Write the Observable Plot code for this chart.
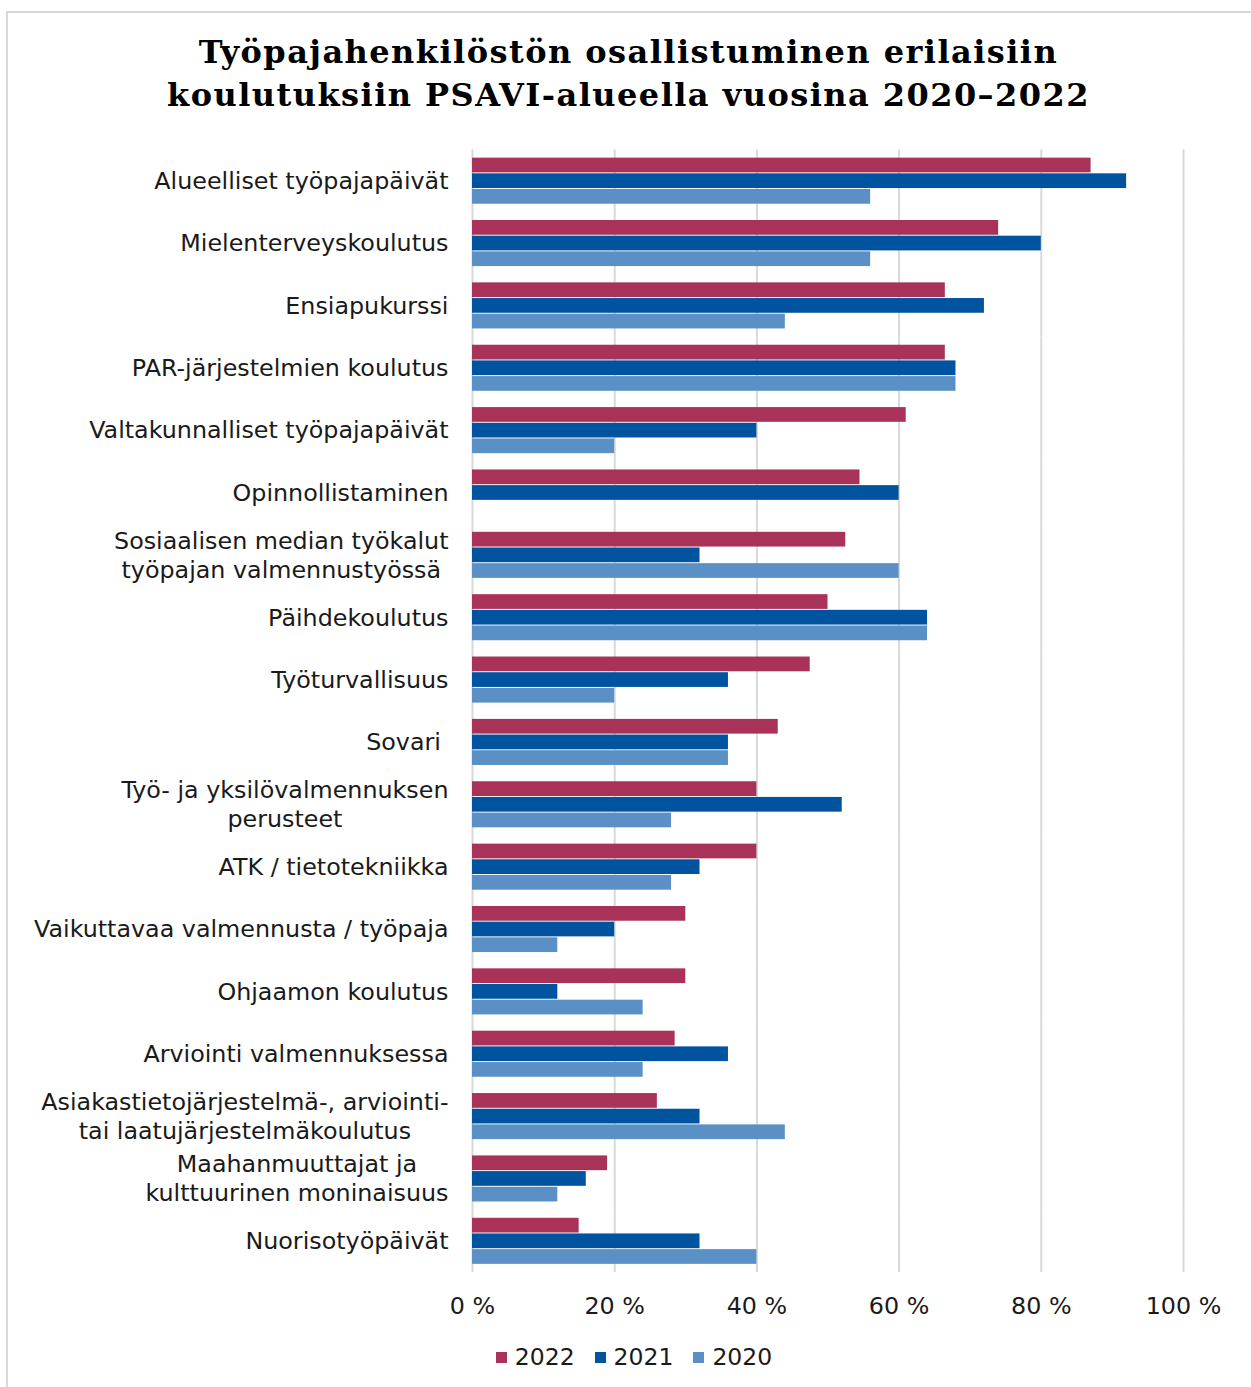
<!DOCTYPE html>
<html>
<head>
<meta charset="utf-8">
<script src="https://cdn.jsdelivr.net/npm/d3@7"></script>
<script src="https://cdn.jsdelivr.net/npm/@observablehq/plot@0.6"></script>
<style>
  html, body { margin: 0; padding: 0; background: #fff; }
  #wrap { position: relative; width: 1251px; height: 1387px; overflow: hidden; background: #fff; }
  #frame { position: absolute; left: 6px; top: 11px; width: 1260px; height: 1400px; border: 2px solid #d9d9d9; box-sizing: border-box; }
  #title { position: absolute; left: 6px; width: 1245px; top: 31px; text-align: center;
           font-family: "DejaVu Serif", serif; font-weight: bold; font-size: 32px; letter-spacing: 1.45px; line-height: 43px; color: #000; }
  #chart { position: absolute; left: 0; top: 130px; }
  #legend { position: absolute; left: 0; width: 1268px; top: 1343px; display: flex; justify-content: center;
            font-family: "DejaVu Sans", sans-serif; font-size: 23.5px; color: #1a1a1a; }
  .item { display: flex; align-items: center; margin: 0 10px; }
  .sw { width: 11px; height: 11px; margin-right: 8px; }
</style>
</head>
<body>
<div id="wrap">
  <div id="frame"></div>
  <div id="title">Työpajahenkilöstön osallistuminen erilaisiin<br>koulutuksiin PSAVI-alueella vuosina 2020–2022</div>
  <div id="chart"></div>
  <div id="legend"></div>
</div>
<script>
const categories = [
  "Alueelliset työpajapäivät",
  "Mielenterveyskoulutus",
  "Ensiapukurssi",
  "PAR-järjestelmien koulutus",
  "Valtakunnalliset työpajapäivät",
  "Opinnollistaminen",
  "Sosiaalisen median työkalut\ntyöpajan valmennustyössä",
  "Päihdekoulutus",
  "Työturvallisuus",
  "Sovari ",
  "Työ- ja yksilövalmennuksen\nperusteet",
  "ATK / tietotekniikka",
  "Vaikuttavaa valmennusta / työpaja",
  "Ohjaamon koulutus",
  "Arviointi valmennuksessa",
  "Asiakastietojärjestelmä-, arviointi-\ntai laatujärjestelmäkoulutus",
  "Maahanmuuttajat ja\nkulttuurinen moninaisuus",
  "Nuorisotyöpäivät"
];
const years = ["2022", "2021", "2020"];
const colors = ["#a83258", "#00549f", "#5b90c6"];
const values2022 = [87, 74, 66.5, 66.5, 61, 54.5, 52.5, 50, 47.5, 43, 40, 40, 30, 30, 28.5, 26, 19, 15];
const values2021 = [92, 80, 72, 68, 40, 60, 32, 64, 36, 36, 52, 32, 20, 12, 36, 32, 16, 32];
const values2020 = [56, 56, 44, 68, 20, 0, 60, 64, 20, 36, 28, 28, 12, 24, 24, 44, 12, 40];
const xTicks = [0, 20, 40, 60, 80, 100];

const series = {"2022": values2022, "2021": values2021, "2020": values2020};
const data = [];
categories.forEach((c, i) => years.forEach(y => data.push({category: c, year: y, value: series[y][i]})));

const chart = Plot.plot({
  width: 1251,
  height: 1192,
  marginLeft: 472,
  marginRight: 68,
  marginTop: 19.5,
  marginBottom: 50,
  style: {fontFamily: "DejaVu Sans, sans-serif", fontSize: "23.8px", color: "#1a1a1a", background: "transparent"},
  x: {domain: [0, 100], ticks: xTicks, tickFormat: d => d + " %", tickSize: 0, tickPadding: 25, label: null},
  y: {domain: years, axis: null, paddingInner: 0.06, paddingOuter: 0.52, round: false},
  fy: {domain: categories, axis: null, padding: 0, round: false},
  color: {domain: years, range: colors},
  marks: [
    Plot.ruleX(xTicks, {stroke: "#d9d9d9", strokeWidth: 2}),
    Plot.barX(data, {x: "value", y: "year", fy: "category", fill: "year"}),
    Plot.text(categories, {fy: d => d, text: d => d, frameAnchor: "left", textAnchor: "end", dx: -24, dy: -1.5,
      lineHeight: 1.22, fill: "#1a1a1a", className: "catlabels"})
  ]
});
document.getElementById("chart").appendChild(chart);

// center-align lines inside multi-line category labels (block stays right-aligned)
chart.querySelectorAll(".catlabels text").forEach(t => {
  t.style.whiteSpace = "pre";
  const spans = t.querySelectorAll("tspan");
  if (spans.length > 1) {
    let maxW = 0;
    spans.forEach(s => { maxW = Math.max(maxW, s.getComputedTextLength()); });
    t.setAttribute("text-anchor", "middle");
    spans.forEach(s => s.setAttribute("x", -maxW / 2));
  }
});

const legend = document.getElementById("legend");
years.forEach((y, i) => {
  const item = document.createElement("div");
  item.className = "item";
  const sw = document.createElement("div");
  sw.className = "sw";
  sw.style.background = colors[i];
  const lab = document.createElement("span");
  lab.textContent = y;
  item.appendChild(sw);
  item.appendChild(lab);
  legend.appendChild(item);
});
</script>
</body>
</html>
